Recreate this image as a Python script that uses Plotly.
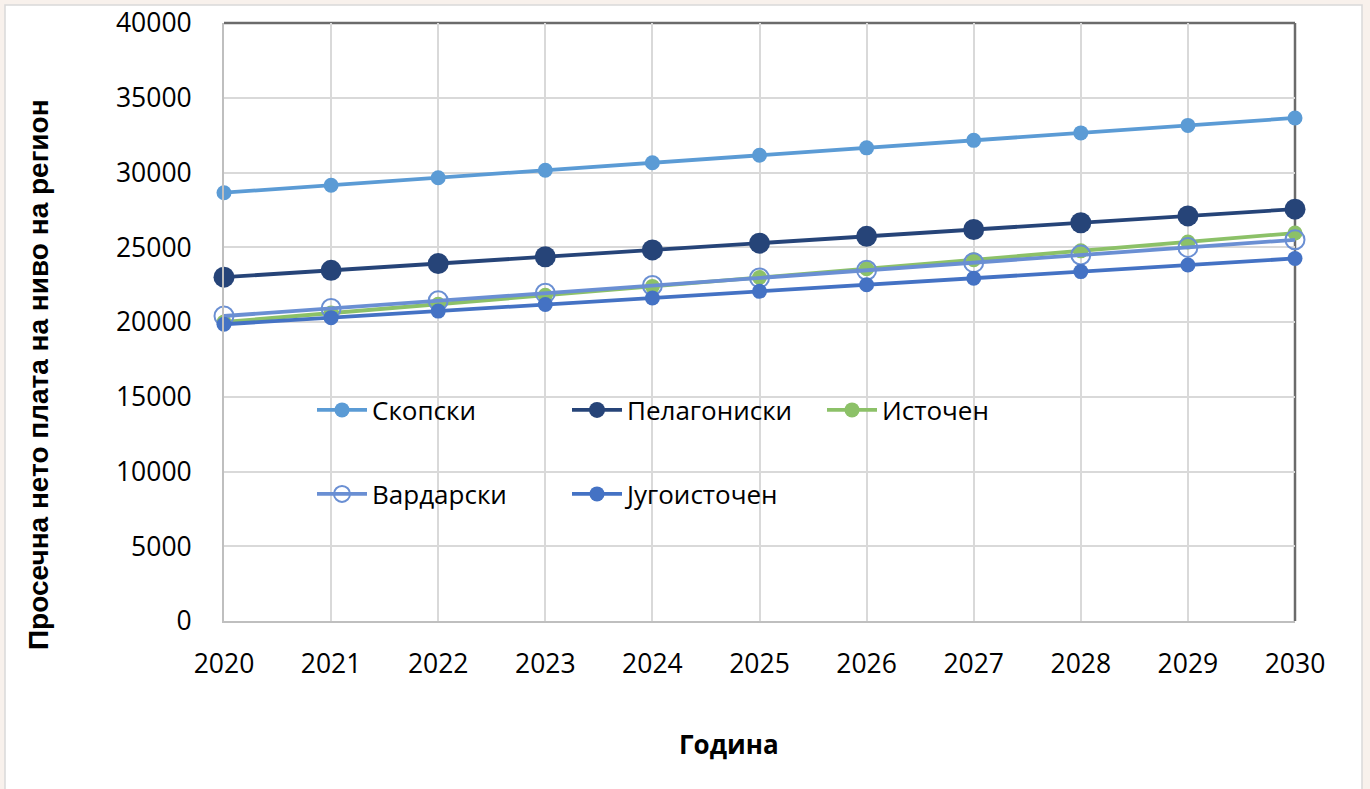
import plotly.graph_objects as go

years = [2020, 2021, 2022, 2023, 2024, 2025, 2026, 2027, 2028, 2029, 2030]
skopski = [28650, 29150, 29650, 30150, 30650, 31150, 31650, 32150, 32650, 33150, 33650]
pelagoniski = [23000, 23455, 23910, 24365, 24820, 25275, 25730, 26185, 26640, 27095, 27550]
istochen = [20000, 20595, 21190, 21785, 22380, 22975, 23570, 24165, 24760, 25355, 25950]
vardarski = [20400, 20910, 21420, 21930, 22440, 22950, 23460, 23970, 24480, 24990, 25500]
jugoistochen = [19850, 20290, 20730, 21170, 21610, 22050, 22490, 22930, 23370, 23810, 24250]

series_names = ["Скопски", "Пелагониски", "Источен", "Вардарски", "Југоисточен"]
x_tick_labels = [str(y) for y in years]
y_tick_vals = [0, 5000, 10000, 15000, 20000, 25000, 30000, 35000, 40000]

FONT = "Open Sans"

fig = go.Figure()

def add(name, ys, color, size, symbol="circle", legend="legend"):
    marker = dict(size=size, color=color, symbol=symbol)
    if symbol == "circle-open":
        marker = dict(size=size, color=color, symbol=symbol, line=dict(width=2, color=color))
    fig.add_trace(go.Scatter(
        x=years, y=ys, name=name, mode="lines+markers",
        line=dict(color=color, width=3.8),
        marker=marker, legend=legend, cliponaxis=False,
    ))

add(series_names[0], skopski, "#5B9BD5", 15)
add(series_names[1], pelagoniski, "#264478", 21)
add(series_names[2], istochen, "#8CC168", 15)
add(series_names[3], vardarski, "#6A8FD3", 19, symbol="circle-open", legend="legend2")
add(series_names[4], jugoistochen, "#4472C4", 15, legend="legend2")

L, R, T, B = 224, 75, 23, 168
W, H = 1370, 789
pw, ph = W - L - R, H - T - B

def px_x(px):
    return (px - L) / pw

def px_y(py):
    return (H - B - py) / ph

legend_common = dict(
    orientation="h", font=dict(family=FONT, size=26, color="#000000"),
    bgcolor="rgba(0,0,0,0)", itemwidth=50, entrywidth=190,
    xanchor="left", yanchor="middle", itemsizing="trace",
)

fig.update_layout(
    width=W, height=H,
    margin=dict(l=L, r=R, t=T, b=B, autoexpand=False),
    paper_bgcolor="#F8F1EC",
    plot_bgcolor="#FFFFFF",
    font=dict(family=FONT, size=26, color="#000000"),
    showlegend=True,
    legend=dict(x=px_x(312), y=px_y(410), **legend_common),
    legend2=dict(x=px_x(312), y=px_y(494), **legend_common),
    xaxis=dict(
        range=[2020, 2030], tickvals=years, ticktext=x_tick_labels,
        showgrid=True, gridcolor="#D9D9D9", gridwidth=1.5,
        showline=True, linecolor="#BFBFBF", linewidth=2,
        zeroline=False, ticks="", ticklabelstandoff=18, automargin=False,
        tickfont=dict(family=FONT, size=26.5, color="#000000"),
    ),
    yaxis=dict(
        range=[0, 40000], tickvals=y_tick_vals, ticktext=[str(v) for v in y_tick_vals],
        showgrid=True, gridcolor="#D9D9D9", gridwidth=1.5,
        showline=True, linecolor="#BFBFBF", linewidth=2,
        zeroline=False, ticks="", ticklabelstandoff=25, automargin=False,
        tickfont=dict(family=FONT, size=26.5, color="#000000"),
    ),
    annotations=[
        dict(text="<b>Година</b>", xref="paper", yref="paper",
             x=px_x(729), y=px_y(744), showarrow=False,
             xanchor="center", yanchor="middle",
             font=dict(family=FONT, size=26, color="#000000")),
        dict(text="<b>Просечна нето плата на ниво на регион</b>", xref="paper", yref="paper",
             x=px_x(38), y=px_y(375), showarrow=False, textangle=-90,
             xanchor="center", yanchor="middle",
             font=dict(family="Liberation Sans", size=28, color="#000000")),
    ],
    shapes=[
        dict(type="rect", xref="paper", yref="paper", layer="below",
             x0=px_x(5), x1=px_x(1362), y0=px_y(800), y1=px_y(5),
             fillcolor="#FFFFFF", line=dict(color="#D9D9D9", width=1.5)),
        dict(type="line", xref="paper", yref="paper", layer="below",
             x0=0, x1=1, y0=1, y1=1, line=dict(color="#6B6B6B", width=2.5)),
        dict(type="line", xref="paper", yref="paper", layer="below",
             x0=1, x1=1, y0=0, y1=1, line=dict(color="#6B6B6B", width=2.5)),
    ],
)

fig.write_html("out.html", config={"displayModeBar": False},
               post_script="document.body.style.margin='0';document.body.style.overflow='hidden';")
